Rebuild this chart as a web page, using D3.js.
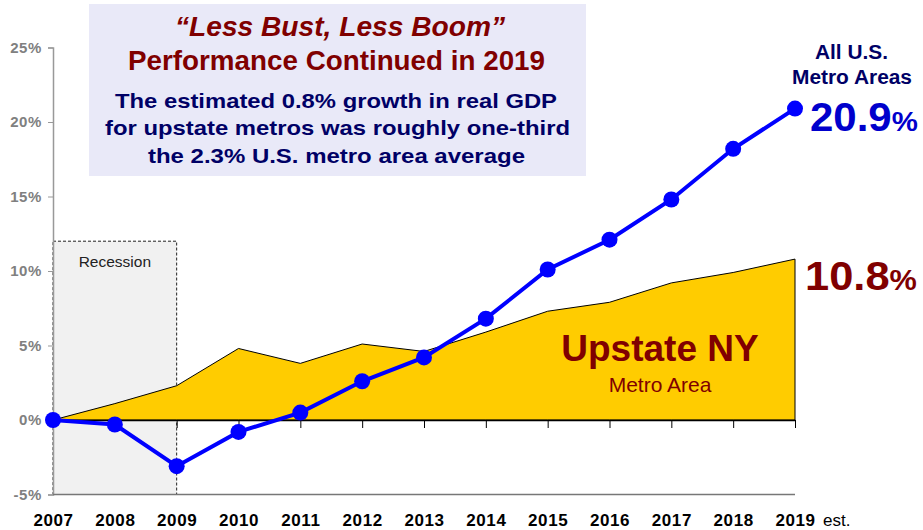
<!DOCTYPE html>
<html>
<head>
<meta charset="utf-8">
<script src="https://cdn.jsdelivr.net/npm/d3@7"></script>
<style>
  html, body { margin: 0; padding: 0; background: #fff; }
  svg { display: block; font-family: Arial, "Liberation Sans", sans-serif; }
</style>
</head>
<body>
<svg id="chart" width="923" height="530"></svg>
<script>
// ---- data ----
const years = [2007, 2008, 2009, 2010, 2011, 2012, 2013, 2014, 2015, 2016, 2017, 2018, 2019];
const upstateNY = [0, 1.1, 2.3, 4.8, 3.8, 5.1, 4.6, 5.9, 7.3, 7.9, 9.2, 9.9, 10.8];
const usMetro = [0, -0.3, -3.1, -0.8, 0.5, 2.6, 4.2, 6.8, 10.1, 12.1, 14.8, 18.2, 20.9];
const yTicks = [-5, 0, 5, 10, 15, 20, 25];
const recession = { start: 2007, end: 2009, top: 12 };
const titleLines = ["\u201CLess Bust, Less Boom\u201D", "Performance Continued in 2019"];
const noteLines = ["The estimated 0.8% growth in real GDP", "for upstate metros was roughly one-third", "the 2.3% U.S. metro area average"];

const FONT = "Arial, 'Liberation Sans', sans-serif";
const svg = d3.select("#chart");
const x = d3.scaleLinear().domain([2007, 2019]).range([53, 795]);
const y = d3.scaleLinear().domain([-5, 25]).range([494.5, 47.5]);

// recession box
svg.append("rect")
  .attr("x", x(recession.start)).attr("y", y(recession.top))
  .attr("width", x(recession.end) - x(recession.start))
  .attr("height", y(-5) - y(recession.top))
  .attr("fill", "#f1f1f1").attr("stroke", "#222").attr("stroke-width", 1)
  .attr("stroke-dasharray", "3,2");
svg.append("text").attr("x", (x(recession.start) + x(recession.end)) / 2).attr("y", 267)
  .attr("text-anchor", "middle").attr("font-size", 15.5).attr("fill", "#222").text("Recession");

// y axis
const yAxis = svg.append("g").attr("transform", `translate(${x(2007)},0)`)
  .call(d3.axisLeft(y).tickValues(yTicks).tickSize(5).tickPadding(6).tickFormat(d => d + "%"));
yAxis.select(".domain").attr("stroke", "#999").attr("stroke-width", 1.5);
yAxis.selectAll(".tick line").attr("stroke", "#999");
yAxis.selectAll(".tick text").attr("fill", "#808080").attr("font-size", 15).attr("font-weight", "bold")
  .attr("letter-spacing", 0.6).attr("font-family", FONT);

// bottom line at -5%
svg.append("line").attr("x1", x(2007)).attr("x2", x(2019)).attr("y1", y(-5)).attr("y2", y(-5))
  .attr("stroke", "#777").attr("stroke-width", 1.5);

// year labels
const xAxis = svg.append("g").attr("transform", `translate(0,${y(-5)})`)
  .call(d3.axisBottom(x).tickValues(years).tickSize(0).tickPadding(19).tickFormat(d3.format("d")));
xAxis.select(".domain").remove();
xAxis.selectAll(".tick text").attr("fill", "#000").attr("font-size", 17).attr("font-weight", "bold")
  .attr("letter-spacing", 0.6).attr("font-family", FONT);
svg.append("text").attr("x", x(2019) + 28).attr("y", 526).attr("font-size", 17).attr("fill", "#000").text("est.");

// upstate area
const area = d3.area().x((d, i) => x(years[i])).y0(y(0)).y1(d => y(d));
svg.append("path").datum(upstateNY).attr("d", area)
  .attr("fill", "#FFCC00").attr("stroke", "#000").attr("stroke-width", 1);

// zero axis with ticks
const zAxis = svg.append("g").attr("transform", `translate(0,${y(0)})`)
  .call(d3.axisBottom(x).tickValues(years).tickSize(8).tickSizeOuter(0).tickFormat(""));
zAxis.select(".domain").attr("stroke", "#000").attr("stroke-width", 1.5);
zAxis.selectAll(".tick line").attr("stroke", "#000");

// US line
const line = d3.line().x((d, i) => x(years[i])).y(d => y(d));
svg.append("path").datum(usMetro).attr("d", line)
  .attr("fill", "none").attr("stroke", "#0000FF").attr("stroke-width", 4);
svg.selectAll("circle.us").data(usMetro).join("circle").attr("class", "us")
  .attr("cx", (d, i) => x(years[i])).attr("cy", d => y(d)).attr("r", 8).attr("fill", "#0000FF");

// info box
svg.append("rect").attr("x", 89).attr("y", 4).attr("width", 497).attr("height", 172).attr("fill", "#E9E9F8");
const cx = 337.5;
function fitText(sel, len) { return sel.attr("textLength", len).attr("lengthAdjust", "spacingAndGlyphs"); }
fitText(svg.append("text").attr("x", 340).attr("y", 36).attr("text-anchor", "middle")
  .attr("font-size", 27).attr("font-weight", "bold").attr("font-style", "italic").attr("fill", "#800000")
  .text(titleLines[0]), 330);
fitText(svg.append("text").attr("x", 336.5).attr("y", 70).attr("text-anchor", "middle")
  .attr("font-size", 28).attr("font-weight", "bold").attr("fill", "#800000")
  .text(titleLines[1]), 417);
const noteLens = [442, 465, 377];
const noteCx = [336, 337.5, 336.5];
noteLines.forEach((t, i) => {
  fitText(svg.append("text").attr("x", noteCx[i]).attr("y", 108 + i * 27.3).attr("text-anchor", "middle")
    .attr("font-size", 21).attr("font-weight", "bold").attr("fill", "#000066").text(t), noteLens[i]);
});

// right labels
fitText(svg.append("text").attr("x", 851.5).attr("y", 59).attr("text-anchor", "middle")
  .attr("font-size", 20).attr("font-weight", "bold").attr("fill", "#000066").text("All U.S."), 73);
fitText(svg.append("text").attr("x", 852).attr("y", 84).attr("text-anchor", "middle")
  .attr("font-size", 20).attr("font-weight", "bold").attr("fill", "#000066").text("Metro Areas"), 120);

const lbl1 = svg.append("text").attr("transform", "translate(810,131) scale(1.05,1)")
  .attr("font-weight", "bold").attr("fill", "#0000CC");
lbl1.append("tspan").attr("font-size", 40).text(d3.format(".1f")(usMetro[usMetro.length - 1]));
lbl1.append("tspan").attr("font-size", 28).text("%");

const lbl2 = svg.append("text").attr("transform", "translate(805,290) scale(1.06,1)")
  .attr("font-weight", "bold").attr("fill", "#800000");
lbl2.append("tspan").attr("font-size", 41).text(d3.format(".1f")(upstateNY[upstateNY.length - 1]));
lbl2.append("tspan").attr("font-size", 29).text("%");

svg.append("text").attr("x", 660).attr("y", 361).attr("text-anchor", "middle")
  .attr("font-size", 37).attr("font-weight", "bold").attr("fill", "#800000").text("Upstate NY");
svg.append("text").attr("x", 660).attr("y", 392).attr("text-anchor", "middle")
  .attr("font-size", 21).attr("fill", "#800000").text("Metro Area");
</script>
</body>
</html>
